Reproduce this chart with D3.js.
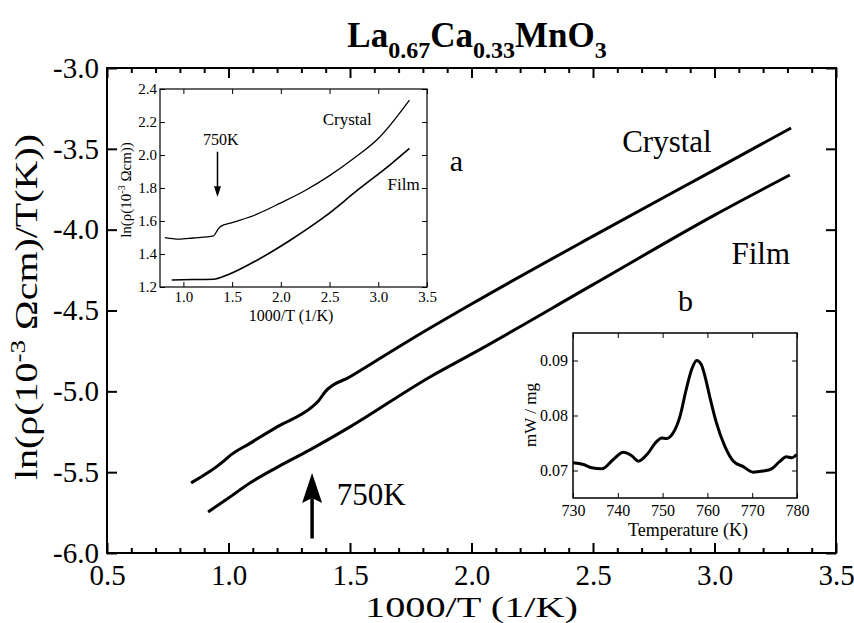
<!DOCTYPE html>
<html>
<head>
<meta charset="utf-8">
<script src="https://cdn.jsdelivr.net/npm/d3@7"></script>
<style>
  body { margin: 0; background: #fff; }
  svg { font-family: "Liberation Serif", "DejaVu Serif", serif; }
</style>
</head>
<body>
<svg id="chart" width="854" height="623"></svg>
<script>
// main plot: ln(rho/T) vs 1000/T
const crystalX = [0.846, 0.98, 1.0, 1.088, 1.2, 1.344, 1.37, 1.397, 1.5, 1.747, 2.0, 2.5, 3.0, 3.315];
const crystalY = [-5.566, -5.432, -5.405, -5.322, -5.22, -5.096, -5.06, -5.004, -4.91, -4.682, -4.46, -4.04, -3.63, -3.371];
const filmX = [0.916, 1.0, 1.088, 1.2, 1.335, 1.5, 1.829, 2.0, 2.5, 3.0, 3.31];
const filmY = [-5.746, -5.66, -5.567, -5.47, -5.362, -5.22, -4.911, -4.77, -4.34, -3.91, -3.662];

// inset a: ln(rho) vs 1000/T
const inCrystalX = [0.81, 0.95, 1.1, 1.31, 1.35, 1.38, 1.5, 1.75, 2.0, 2.25, 2.5, 2.75, 3.0, 3.32];
const inCrystalY = [1.499, 1.49, 1.497, 1.51, 1.545, 1.566, 1.59, 1.64, 1.71, 1.785, 1.875, 1.98, 2.1, 2.333];
const inFilmX = [0.88, 1.1, 1.31, 1.45, 1.76, 2.10, 2.45, 2.79, 3.13, 3.32];
const inFilmY = [1.242, 1.245, 1.247, 1.273, 1.364, 1.485, 1.626, 1.788, 1.945, 2.04];

// inset b: DSC
const dscT = [730, 732.3, 734.2, 736.4, 739, 741.2, 743.1, 744.6, 746.5, 748.7, 749.8, 750.9, 752.4, 753.9, 755.2, 756.5, 757.6, 758.6, 759.5, 760.5, 762, 763.9, 765.8, 768, 770.2, 772.4, 774.3, 776.1, 777.6, 778.8, 779.9];
const dscV = [0.0714, 0.0711, 0.0705, 0.0703, 0.0720, 0.0733, 0.0727, 0.0717, 0.0729, 0.0753, 0.0759, 0.0758, 0.0769, 0.0799, 0.0845, 0.0884, 0.0900, 0.0893, 0.0870, 0.0835, 0.0787, 0.0744, 0.0717, 0.0707, 0.0697, 0.0699, 0.0703, 0.0716, 0.0725, 0.0723, 0.0729];

const mainXTicks = [0.5, 1.0, 1.5, 2.0, 2.5, 3.0, 3.5];
const mainYTicks = [-6.0, -5.5, -5.0, -4.5, -4.0, -3.5, -3.0];
const inAXTicks = [1.0, 1.5, 2.0, 2.5, 3.0, 3.5];
const inAYTicks = [1.2, 1.4, 1.6, 1.8, 2.0, 2.2, 2.4];
const inBXTicks = [730, 740, 750, 760, 770, 780];
const inBYTicks = [0.07, 0.08, 0.09];

const svg = d3.select("#chart");
const fmt1 = d => d.toFixed(1);

// boxed frame with inward ticks on all four sides
function frame(g, x, y, o) {
  const [x0, x1] = x.range();
  const [y0, y1] = y.range(); // y0 bottom, y1 top
  g.append("g").attr("transform", `translate(0,${y0})`)
    .call(d3.axisBottom(x).tickValues(o.xTicks).tickFormat(o.xFmt).tickSize(-o.major).tickPadding(o.xPad));
  g.append("g").attr("transform", `translate(${x0},0)`)
    .call(d3.axisLeft(y).tickValues(o.yTicks).tickFormat(o.yFmt).tickSize(-o.major).tickPadding(o.yPad));
  g.append("g").attr("transform", `translate(0,${y1})`)
    .call(d3.axisTop(x).tickValues(o.xTicks).tickFormat("").tickSize(-o.major));
  g.append("g").attr("transform", `translate(${x1},0)`)
    .call(d3.axisRight(y).tickValues(o.yTicks).tickFormat("").tickSize(-o.major));
  if (o.xMinor) {
    g.append("g").attr("transform", `translate(0,${y0})`)
      .call(d3.axisBottom(x).tickValues(o.xMinor).tickFormat("").tickSize(-o.minor));
    g.append("g").attr("transform", `translate(0,${y1})`)
      .call(d3.axisTop(x).tickValues(o.xMinor).tickFormat("").tickSize(-o.minor));
  }
  g.selectAll(".domain").remove();
  g.selectAll(".tick line").attr("stroke", "#000").attr("stroke-width", o.tickW);
  g.selectAll(".tick text").attr("fill", "#000").style("font-size", o.font + "px")
    .style("font-family", "Liberation Serif");
  g.append("rect")
    .attr("x", x0).attr("y", y1)
    .attr("width", x1 - x0).attr("height", y0 - y1)
    .attr("fill", "none").attr("stroke", "#000").attr("stroke-width", o.frameW);
}

const line = (sx, sy) => d3.line().x(d => sx(d[0])).y(d => sy(d[1])).curve(d3.curveMonotoneX);

// ---------- MAIN ----------
const x = d3.scaleLinear().domain([0.5, 3.5]).range([107, 836]);
const y = d3.scaleLinear().domain([-6.0, -3.0]).range([553, 68]);

const mainG = svg.append("g");
const minorMain = d3.range(5, 36).map(d => d / 10).filter(v => Math.abs(v * 2 - Math.round(v * 2)) > 1e-6);
frame(mainG, x, y, {
  xTicks: mainXTicks, yTicks: mainYTicks, xFmt: fmt1, yFmt: fmt1,
  xMinor: minorMain, major: 10, minor: 5, xPad: 11, yPad: 8, font: 29, tickW: 2, frameW: 2
});

mainG.append("path").datum(d3.zip(crystalX, crystalY))
  .attr("d", line(x, y)).attr("fill", "none").attr("stroke", "#000").attr("stroke-width", 3);
mainG.append("path").datum(d3.zip(filmX, filmY))
  .attr("d", line(x, y)).attr("fill", "none").attr("stroke", "#000").attr("stroke-width", 3);

// 750K arrow
const ax = 1.344;
mainG.append("line").attr("x1", x(ax)).attr("x2", x(ax))
  .attr("y1", y(-5.91)).attr("y2", y(-5.6)).attr("stroke", "#000").attr("stroke-width", 3.5);
mainG.append("path")
  .attr("d", `M${x(ax)},${y(-5.505)} L${x(ax) - 10},${y(-5.69)} L${x(ax)},${y(-5.66)} L${x(ax) + 10},${y(-5.69)} Z`)
  .attr("fill", "#000");
mainG.append("text").attr("x", x(1.445)).attr("y", y(-5.70)).text("750K").style("font-size", "31px");

mainG.append("text").attr("x", x(2.62)).attr("y", y(-3.52)).text("Crystal").style("font-size", "31px");
mainG.append("text").attr("x", x(3.07)).attr("y", y(-4.21)).text("Film").style("font-size", "31px");
mainG.append("text").attr("x", x(1.91)).attr("y", y(-3.64)).text("a").style("font-size", "30px");
mainG.append("text").attr("x", x(2.85)).attr("y", y(-4.5)).text("b").style("font-size", "30px");

// axis titles
svg.append("text").attr("x", 365).attr("y", 617)
  .attr("textLength", 213).attr("lengthAdjust", "spacingAndGlyphs")
  .style("font-size", "29px").text("1000/T (1/K)");
const yl = svg.append("text").attr("transform", "translate(37,480) rotate(-90)")
  .attr("textLength", 346).attr("lengthAdjust", "spacingAndGlyphs")
  .style("font-size", "31px");
yl.append("tspan").text("ln(ρ(10");
yl.append("tspan").attr("dy", -12).style("font-size", "21px").text("-3");
yl.append("tspan").attr("dy", 12).text(" Ωcm)/T(K))");

// title
const title = svg.append("text").attr("x", 477).attr("y", 47).attr("text-anchor", "middle")
  .style("font-size", "35px").style("font-weight", "bold");
title.append("tspan").text("La");
title.append("tspan").attr("dy", 11).style("font-size", "24px").text("0.67");
title.append("tspan").attr("dy", -11).text("Ca");
title.append("tspan").attr("dy", 11).style("font-size", "24px").text("0.33");
title.append("tspan").attr("dy", -11).text("MnO");
title.append("tspan").attr("dy", 11).style("font-size", "24px").text("3");

// ---------- INSET a ----------
const xa = d3.scaleLinear().domain([0.76, 3.5]).range([160, 427]);
const ya = d3.scaleLinear().domain([1.2, 2.4]).range([287, 89]);
const gA = svg.append("g");
gA.append("rect").attr("x", 160).attr("y", 89).attr("width", 267).attr("height", 198).attr("fill", "#fff");
frame(gA, xa, ya, {
  xTicks: inAXTicks, yTicks: inAYTicks, xFmt: fmt1, yFmt: fmt1,
  major: 5, xPad: 4, yPad: 3, font: 15, tickW: 1, frameW: 1.2
});
gA.append("path").datum(d3.zip(inCrystalX, inCrystalY))
  .attr("d", line(xa, ya)).attr("fill", "none").attr("stroke", "#000").attr("stroke-width", 1.3);
gA.append("path").datum(d3.zip(inFilmX, inFilmY))
  .attr("d", line(xa, ya)).attr("fill", "none").attr("stroke", "#000").attr("stroke-width", 1.6);
gA.append("text").attr("x", xa(2.43)).attr("y", ya(2.18)).style("font-size", "17px").text("Crystal");
gA.append("text").attr("x", xa(3.095)).attr("y", ya(1.79)).style("font-size", "17px").text("Film");
gA.append("text").attr("x", xa(1.2)).attr("y", ya(2.06)).style("font-size", "16px").text("750K");
gA.append("line").attr("x1", xa(1.35)).attr("x2", xa(1.35))
  .attr("y1", ya(2.02)).attr("y2", ya(1.8)).attr("stroke", "#000").attr("stroke-width", 1.5);
gA.append("path")
  .attr("d", `M${xa(1.35)},${ya(1.745)} L${xa(1.35) - 3.5},${ya(1.81)} L${xa(1.35) + 3.5},${ya(1.81)} Z`)
  .attr("fill", "#000");
svg.append("text").attr("x", 291).attr("y", 321).attr("text-anchor", "middle")
  .style("font-size", "16px").text("1000/T (1/K)");
const yla = svg.append("text").attr("transform", "translate(131,190) rotate(-90)")
  .attr("text-anchor", "middle").style("font-size", "15px");
yla.append("tspan").text("ln(ρ(10");
yla.append("tspan").attr("dy", -6).style("font-size", "10px").text("-3");
yla.append("tspan").attr("dy", 6).text(" Ωcm))");

// ---------- INSET b ----------
const xb = d3.scaleLinear().domain([730, 780]).range([573, 797]);
const yb = d3.scaleLinear().domain([0.065, 0.095]).range([498, 333]);
const gB = svg.append("g");
gB.append("rect").attr("x", 573).attr("y", 333).attr("width", 224).attr("height", 165).attr("fill", "#fff");
frame(gB, xb, yb, {
  xTicks: inBXTicks, yTicks: inBYTicks, xFmt: d3.format("d"), yFmt: d3.format(".2f"),
  major: 5, xPad: 7, yPad: 5, font: 16, tickW: 1, frameW: 1.5
});
gB.append("path").datum(d3.zip(dscT, dscV))
  .attr("d", line(xb, yb)).attr("fill", "none").attr("stroke", "#000").attr("stroke-width", 3);
svg.append("text").attr("x", 688).attr("y", 536).attr("text-anchor", "middle")
  .style("font-size", "18px").text("Temperature (K)");
svg.append("text").attr("transform", "translate(536,415) rotate(-90)")
  .attr("text-anchor", "middle").style("font-size", "17px").text("mW / mg");
</script>
</body>
</html>
